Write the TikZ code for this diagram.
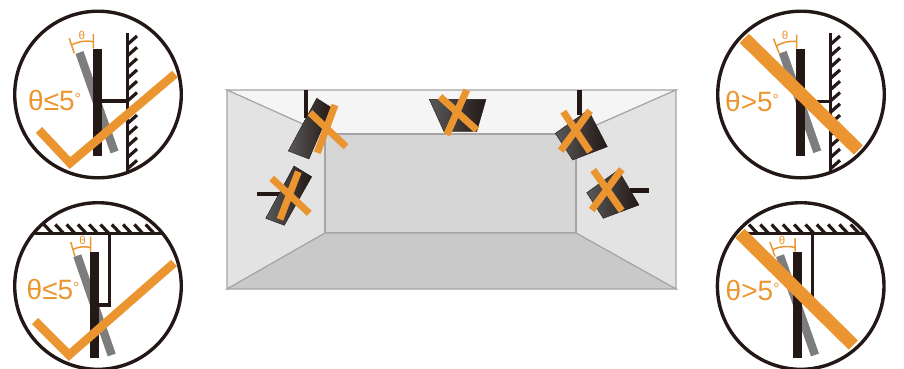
\documentclass[tikz,border=0pt]{standalone}
\usepackage{fontspec}
\setmainfont{Liberation Sans}
\usetikzlibrary{positioning}
\definecolor{signal}{HTML}{EB9530}
\definecolor{ink}{HTML}{231815}
\definecolor{tiltgray}{HTML}{7D7D7D}
\definecolor{edgegray}{HTML}{A5A5A5}
\tikzset{
  lens/.style={draw=ink, line width=3.4pt},
  panel/.style={ink, line width=8.8pt},
  tilted/.style={tiltgray, line width=8.4pt},
  arm/.style={ink, line width=3.2pt},
  hatch/.style={ink, line width=3.2pt},
  okmark/.style={signal, line width=8.6pt, miter limit=10},
  banbar/.style={signal, line width=13pt},
  angle/.style={signal, line width=1.5pt},
  limit/.style={text=signal, font=\fontsize{28}{28}\selectfont, inner sep=0pt, anchor=base west},
  small/.style={text=signal, font=\fontsize{11.5}{12}\selectfont, inner sep=0pt},
  surface/.style={draw=edgegray, line width=1.1pt},
  box/.style={left color=black!65, right color=ink, draw=ink, line width=.4pt},
  rod/.style={ink, line width=4.6pt},
  cross/.style={signal, line width=7pt},
}
\newcommand{\degmark}{\raisebox{6pt}{\fontsize{16}{16}\selectfont°}}
\begin{document}
\begin{tikzpicture}[x=1pt, y=-1pt]
  \useasboundingbox (0,0) rectangle (904,368);

  % room
  \filldraw[surface, fill=black!4] (227,90) -- (676,90) -- (576,134) -- (325,134) -- cycle;
  \filldraw[surface, fill=black!11] (227,90) -- (325,134) -- (325,233) -- (227,289) -- cycle;
  \filldraw[surface, fill=black!11] (676,90) -- (576,134) -- (576,233) -- (676,289) -- cycle;
  \filldraw[surface, fill=black!16] (325,134) rectangle (576,233);
  \filldraw[surface, fill=black!21] (325,233) -- (576,233) -- (676,289) -- (227,289) -- cycle;

  % projectors
  \draw[rod] (306,90) -- (306,118);
  \shade[box] (316.7,98.3) -- (331,107.3) -- (309,159) -- (288.3,151) -- cycle;
  \draw[cross] (335,105) -- (317.3,152.7) (310,112.7) -- (346,146.7);
  \draw[rod] (257.3,194) -- (283,194);
  \shade[box] (294,166) -- (311.7,176.7) -- (284.3,225.3) -- (265.7,218.3) -- cycle;
  \draw[cross] (298.3,171.7) -- (280,219.3) (271.7,178.3) -- (309.3,213.3);
  \shade[box] (429.3,99.3) -- (486,99.3) -- (476.7,131.7) -- (444,131.7) -- cycle;
  \draw[cross] (466.7,90) -- (446.7,135) (440,96.7) -- (476.7,130);
  \draw[rod] (579.3,90) -- (579.3,115);
  \shade[box] (555.3,133.3) -- (588.3,110) -- (607.3,146.7) -- (572.7,160) -- cycle;
  \draw[cross] (563.3,111.7) -- (590,151.7) (590,110.7) -- (560.7,150.7);
  \draw[rod] (630,190.7) -- (649,190.7);
  \shade[box] (586.7,192.7) -- (618.3,170) -- (639,205) -- (603.3,218.3) -- cycle;
  \draw[cross] (593.3,170) -- (621.7,210.7) (621.7,169.3) -- (591.7,210);

  % wall, ok
  \draw[tilted] (79.5,52.5) -- (114.5,152);
  \draw[panel] (97.7,49) -- (97.7,155.7);
  \draw[arm] (102,101) -- (127.3,101);
  \draw[arm] (127.3,33) -- (127.3,172);
  \foreach \y in {44,55.3,...,170}
    \draw[hatch] (128,\y) -- (137,\y-8);
  \draw[angle] (69.3,38.3) -- (74.3,53.3) (93.3,34) -- (93.3,48.3);
  \draw[angle] (71.7,45) to[bend left=18] (93.3,41.7);
  \node[small] (angleA) at (81.7,35.7) {θ};
  \node[limit] (limitA) at (28,110) {θ≤5\degmark};
  \draw[okmark] (39,130) -- (70,163) -- (175,74);
  \draw[lens] (98,94.5) circle (83.3);

  % ceiling, ok
  \draw[tilted] (77.3,255.7) -- (111.7,355);
  \draw[panel] (94.5,252) -- (94.5,358);
  \draw[arm] (35,233.3) -- (163,233.3);
  \draw[arm] (99,305) -- (109.3,305) -- (109.3,233.3);
  \foreach \x in {44,55.3,...,156}
    \draw[hatch] (\x,224.5) -- (\x+8,233);
  \draw[angle] (70.7,242) -- (75,256.5) (90.7,236.5) -- (90.7,251.5);
  \draw[angle] (72.7,249.5) to[bend left=18] (90.7,247.5);
  \node[small] (angleB) at (82.5,240.5) {θ};
  \node[limit] (limitB) at (26.5,299.5) {θ≤5\degmark};
  \draw[okmark] (35,321) -- (69,355) -- (174,263);
  \draw[lens] (98,286) circle (83.3);

  % wall, too far
  \draw[tilted] (782.7,52.3) -- (817.3,151.7);
  \draw[panel] (800.5,49) -- (800.5,155.7);
  \draw[arm] (805,101.7) -- (830.3,101.7);
  \draw[arm] (830.3,33) -- (830.3,170.7);
  \foreach \y in {44,55.3,...,170}
    \draw[hatch] (831,\y) -- (840,\y-8);
  \draw[angle] (773.5,38.5) -- (779,53) (796.7,34.5) -- (796.7,48.5);
  \draw[angle] (776.5,46) to[bend left=18] (796.7,41.5);
  \node[small] (angleC) at (785,35.5) {θ};
  \node[limit] (limitC) at (725,111.5) {θ>5\degmark};
  \draw[banbar] (744.3,38.3) -- (858.3,150);
  \draw[lens] (801,94.5) circle (83.3);

  % ceiling, too far
  \draw[tilted] (780,255.7) -- (815,355);
  \draw[panel] (797.7,252) -- (797.7,358);
  \draw[arm] (746.7,233.3) -- (866.7,233.3);
  \draw[arm] (812.3,233.3) -- (812.3,306);
  \foreach \x in {749,760.3,...,862}
    \draw[hatch] (\x,224.5) -- (\x+8,233);
  \draw[angle] (770,242) -- (775,256.5) (795,238) -- (795,251.5);
  \draw[angle] (773,249.5) to[bend left=18] (795,247.5);
  \node[small] (angleD) at (782,240.5) {θ};
  \node[limit] (limitD) at (725.5,300.5) {θ>5\degmark};
  \draw[banbar] (740,233.3) -- (853.3,345);
  \draw[lens] (800.7,286) circle (83.3);
\end{tikzpicture}
\end{document}
